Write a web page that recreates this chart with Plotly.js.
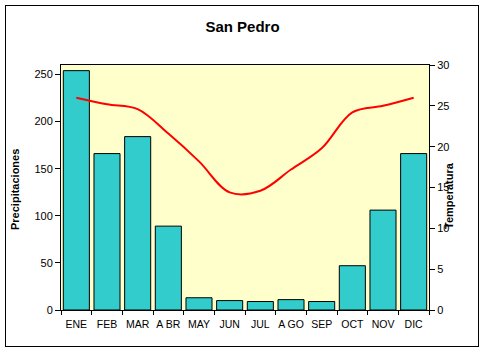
<!DOCTYPE html>
<html>
<head>
<meta charset="utf-8">
<script src="https://cdn.plot.ly/plotly-3.0.1.min.js"></script>
<style>
body{margin:0;padding:0;background:#fff;}
#wrap{position:relative;width:485px;height:352px;}
#chart{position:absolute;left:0;top:0;width:485px;height:352px;}
#frame{position:absolute;left:5px;top:5px;width:472px;height:340px;border:1px solid #000;pointer-events:none;}
</style>
</head>
<body>
<div id="wrap"><div id="chart"></div><div id="frame"></div></div>
<script>
const months = ["ENE","FEB","MAR","A BR","MAY","JUN","JUL","A GO","SEP","OCT","NOV","DIC"];
const precipitaciones = [254, 166, 184, 89, 13, 10, 9, 11, 9, 47, 106, 166];
const temperatura = [26.0, 25.2, 24.6, 21.6, 18.2, 14.4, 14.6, 17.2, 19.8, 24.2, 25.0, 26.0];
const leftTicks = [0, 50, 100, 150, 200, 250];
const rightTicks = [0, 5, 10, 15, 20, 25, 30];

const font = "Liberation Sans, Arial, sans-serif";

const traces = [
  {
    type: "bar",
    x: months,
    y: precipitaciones,
    marker: {color: "#33CCCC", line: {color: "#000", width: 1}},
    yaxis: "y",
    hoverinfo: "x+y"
  },
  {
    type: "scatter",
    mode: "lines",
    x: months,
    y: temperatura,
    line: {color: "#FF0000", width: 2, shape: "spline", smoothing: 1},
    yaxis: "y2"
  }
];

const layout = {
  width: 485,
  height: 352,
  margin: {l: 61, r: 56, t: 65, b: 42},
  paper_bgcolor: "#FFFFFF",
  plot_bgcolor: "#FFFFCC",
  showlegend: false,
  bargap: 0.15,
  font: {family: font, size: 11, color: "#000"},
  title: {
    text: "<b>San Pedro</b>",
    font: {family: font, size: 15, color: "#000"},
    x: 0.5, xanchor: "center", y: 0.925, yanchor: "middle"
  },
  xaxis: {
    type: "category",
    tickangle: 0,
    showline: true, linecolor: "#000", linewidth: 1, mirror: true,
    ticks: "outside", ticklen: 4, tickcolor: "#000", tickson: "boundaries",
    ticklabelstandoff: 4,
    showgrid: false, zeroline: false,
    tickfont: {family: font, size: 10.5, color: "#000"}
  },
  yaxis: {
    range: [0, 260],
    tickvals: leftTicks,
    ticktext: leftTicks.map(String),
    showline: true, linecolor: "#000", linewidth: 1,
    ticks: "outside", ticklen: 5, tickcolor: "#000",
    showgrid: false, zeroline: false,
    tickfont: {family: font, size: 11, color: "#000"}
  },
  yaxis2: {
    range: [0, 30],
    tickvals: rightTicks,
    ticktext: rightTicks.map(String),
    overlaying: "y", side: "right",
    showline: true, linecolor: "#000", linewidth: 1,
    ticks: "outside", ticklen: 5, tickcolor: "#000",
    showgrid: false, zeroline: false,
    tickfont: {family: font, size: 11, color: "#000"}
  },
  annotations: [
    {
      text: "<b>Precipitaciones</b>", textangle: -90,
      xref: "paper", yref: "paper",
      x: (15 - 61) / 368, y: (310 - 190) / 245,
      xanchor: "center", yanchor: "middle", showarrow: false,
      font: {family: font, size: 11, color: "#000"}
    },
    {
      text: "<b>Temperatura</b>", textangle: -90,
      xref: "paper", yref: "paper",
      x: (449 - 61) / 368, y: (310 - 196) / 245,
      xanchor: "center", yanchor: "middle", showarrow: false,
      font: {family: font, size: 11, color: "#000"}
    }
  ]
};

Plotly.newPlot("chart", traces, layout, {displayModeBar: false, staticPlot: true});
</script>
</body>
</html>
